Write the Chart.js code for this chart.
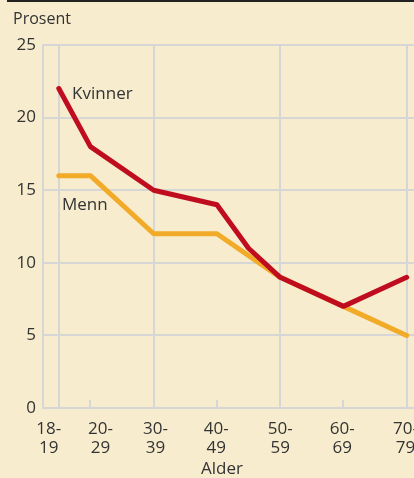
<!DOCTYPE html>
<html>
<head>
<meta charset="utf-8">
<script src="https://cdn.jsdelivr.net/npm/chart.js@4/dist/chart.umd.min.js"></script>
<style>
  html, body { margin: 0; padding: 0; background: #f7ecce; overflow: hidden; }
  #wrap { position: relative; width: 414px; height: 478px; overflow: hidden; }
  #topline { position: absolute; left: 7px; top: 0; width: 420px; height: 2px; background: #222; }
  canvas { position: absolute; left: 0; top: 0; }
</style>
</head>
<body>
<div id="wrap">
  <div id="topline"></div>
  <canvas id="c" width="440" height="478"></canvas>
</div>
<script>
  // aldersgrupper — x-verdi = posisjon på aksen, etikett = tekst under aksen
  const groupLabels = [['18-', '19'], ['20-', '29'], ['30-', '39'], ['40-', '49'], ['50-', '59'], ['60-', '69'], ['70-', '79']];
  const labelPos = [13.4, 21.6, 30.3, 39.9, 50, 59.8, 69.8];
  const gridPos = [15, 30, 50, 70];      // hele loddrette linjer
  const shortTickPos = [20, 40, 60];     // korte merker ved aksen

  const kvinnerX = [15, 20, 30, 40, 45, 50, 60, 70];
  const kvinnerY = [22, 18, 15, 14, 11, 9, 7, 9];
  const mennX = [15, 20, 30, 40, 50, 60, 70];
  const mennY = [16, 16, 12, 12, 9, 7, 5];

  const yTicks = [0, 5, 10, 15, 20, 25];

  const GRID = '#d6d6d6';
  const TXT = '#333333';
  const FONT = 'Open Sans';

  function pts(xs, ys) { return xs.map(function (x, i) { return { x: x, y: ys[i] }; }); }

  /* ── tekst og korte merker ── */
  const extras = {
    id: 'extras',
    beforeDatasetsDraw: function (chart) {
      const ctx = chart.ctx, xs = chart.scales.x, ys = chart.scales.y;
      const y0 = ys.getPixelForValue(0);
      ctx.save();
      ctx.strokeStyle = GRID;
      ctx.lineWidth = 2;
      shortTickPos.forEach(function (v) {
        const px = Math.round(xs.getPixelForValue(v));
        ctx.beginPath(); ctx.moveTo(px, y0); ctx.lineTo(px, y0 - 8); ctx.stroke();
      });
      ctx.restore();
    },
    afterDatasetsDraw: function (chart) {
      const ctx = chart.ctx, xs = chart.scales.x, ys = chart.scales.y;
      ctx.save();
      ctx.fillStyle = TXT;
      ctx.font = '16px "' + FONT + '"';
      ctx.textBaseline = 'middle';
      ctx.textAlign = 'left';
      ctx.fillText('Prosent', 13, 19);
      ctx.font = '17px "' + FONT + '"';
      ctx.fillText('Kvinner', xs.getPixelForValue(17.1), ys.getPixelForValue(21.6));
      ctx.fillText('Menn', xs.getPixelForValue(15.5), ys.getPixelForValue(14.0));
      ctx.textAlign = 'center';
      ctx.fillText('Alder', 222, 469);
      ctx.restore();
    }
  };

  new Chart(document.getElementById('c'), {
    type: 'line',
    data: {
      datasets: [
        { label: 'Kvinner', data: pts(kvinnerX, kvinnerY), borderColor: '#bf0d1f', borderWidth: 5,
          pointRadius: 0, borderJoinStyle: 'round', borderCapStyle: 'round', order: 1 },
        { label: 'Menn', data: pts(mennX, mennY), borderColor: '#f1ab29', borderWidth: 5,
          pointRadius: 0, borderJoinStyle: 'round', borderCapStyle: 'round', order: 2 }
      ]
    },
    options: {
      responsive: false,
      animation: false,
      layout: { padding: { top: 45, left: 0, right: 15, bottom: 0 } },
      plugins: { legend: { display: false }, tooltip: { enabled: false } },
      scales: {
        x: {
          type: 'linear', min: 12.5, max: 72.9, position: 'bottom',
          afterBuildTicks: function (s) { s.ticks = gridPos.map(function (v) { return { value: v }; }); },
          afterFit: function (s) { s.height = 0; },
          grid: { color: GRID, lineWidth: 2, drawTicks: false },
          border: { display: true, color: GRID, width: 2 },
          ticks: { display: false }
        },
        x2: {
          type: 'linear', min: 12.5, max: 72.9, position: 'bottom',
          afterBuildTicks: function (s) { s.ticks = labelPos.map(function (v) { return { value: v }; }); },
          afterFit: function (s) { s.height = 70; },
          grid: { display: false },
          border: { display: false },
          ticks: {
            autoSkip: false, maxRotation: 0, padding: 4,
            color: TXT, font: { family: FONT, size: 17, lineHeight: 1.1 },
            callback: function (v, i) { return groupLabels[i]; }
          }
        },
        y: {
          min: 0, max: 25,
          afterBuildTicks: function (s) { s.ticks = yTicks.map(function (v) { return { value: v }; }); },
          afterFit: function (s) { s.width = 43; },
          grid: { color: GRID, lineWidth: 2, drawTicks: false },
          border: { display: true, color: GRID, width: 2 },
          ticks: { padding: 7, color: TXT, font: { family: FONT, size: 17 } }
        }
      }
    },
    plugins: [extras]
  });
</script>
</body>
</html>
